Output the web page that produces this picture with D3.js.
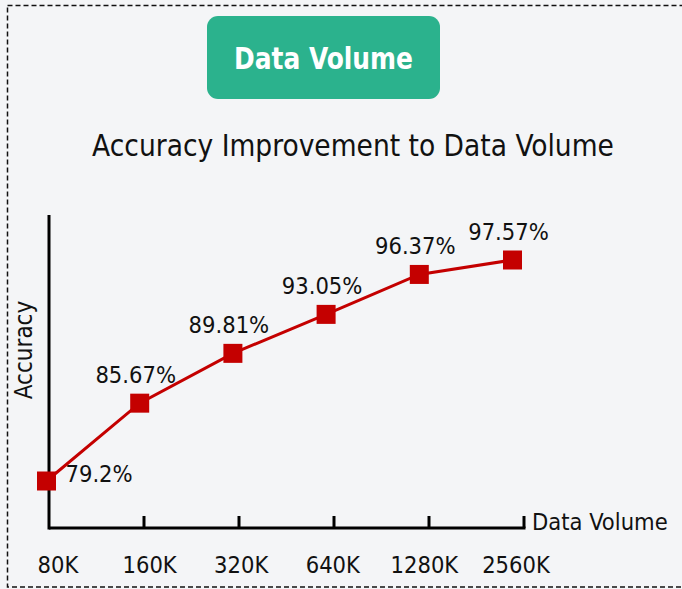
<!DOCTYPE html>
<html>
<head>
<meta charset="utf-8">
<script src="https://cdn.jsdelivr.net/npm/d3@7"></script>
<style>
  html, body { margin: 0; padding: 0; background: #f4f5f7; }
  svg { display: block; }
  svg text { font-stretch: condensed; }
</style>
</head>
<body>
<div id="chart"></div>
<script>
// --- data ---
const volumes = ["80K", "160K", "320K", "640K", "1280K", "2560K"];
const accuracy = [79.2, 85.67, 89.81, 93.05, 96.37, 97.57];
const accuracyLabels = ["79.2%", "85.67%", "89.81%", "93.05%", "96.37%", "97.57%"];

const width = 682;
const height = 589;
const font = "'DejaVu Sans Condensed', 'DejaVu Sans', sans-serif";
const red = "#c40000";

const svg = d3.select("#chart").append("svg")
  .attr("width", width)
  .attr("height", height);

// background + dashed frame
svg.append("rect").attr("width", width).attr("height", height).attr("fill", "#f4f5f7");
svg.append("rect")
  .attr("x", 7.5).attr("y", 5.5)
  .attr("width", width + 20).attr("height", 581.5)
  .attr("fill", "none")
  .attr("stroke", "#111")
  .attr("stroke-width", 1.5)
  .attr("stroke-dasharray", "5,3");

// green badge
svg.append("rect")
  .attr("x", 207).attr("y", 16)
  .attr("width", 233).attr("height", 83)
  .attr("rx", 11)
  .attr("fill", "#2bb28d");
svg.append("text")
  .attr("x", 323.5).attr("y", 69)
  .attr("text-anchor", "middle")
  .attr("font-family", font)
  .attr("font-weight", "bold")
  .attr("font-size", 31)
  .attr("textLength", 179)
  .attr("lengthAdjust", "spacingAndGlyphs")
  .attr("fill", "#fff")
  .text("Data Volume");

// subtitle
svg.append("text")
  .attr("x", 353).attr("y", 156)
  .attr("text-anchor", "middle")
  .attr("font-family", font)
  .attr("font-size", 29.5)
  .attr("fill", "#111")
  .text("Accuracy Improvement to Data Volume");

// --- scales ---
const idx = d3.range(volumes.length);
const xTick = d3.scalePoint().domain(idx).range([49, 524]);
const xPoint = d3.scalePoint().domain(idx).range([46.5, 512.5]);
const xLabel = d3.scalePoint().domain(idx).range([58, 516]);
const y = d3.scaleLinear().domain([79.2, 97.57]).range([481, 260]);

const axisY = 528;

// axes lines
svg.append("line")
  .attr("x1", 49).attr("x2", 49)
  .attr("y1", 215).attr("y2", axisY + 1.5)
  .attr("stroke", "#000").attr("stroke-width", 3);
svg.append("line")
  .attr("x1", 49).attr("x2", 525.5)
  .attr("y1", axisY).attr("y2", axisY)
  .attr("stroke", "#000").attr("stroke-width", 3);

// ticks pointing up (skip origin)
svg.selectAll(".tick")
  .data(idx.slice(1))
  .enter().append("line")
  .attr("class", "tick")
  .attr("x1", d => xTick(d)).attr("x2", d => xTick(d))
  .attr("y1", axisY - 12).attr("y2", axisY)
  .attr("stroke", "#000").attr("stroke-width", 3);

// tick labels
svg.selectAll(".tlabel")
  .data(idx)
  .enter().append("text")
  .attr("class", "tlabel")
  .attr("x", d => xLabel(d))
  .attr("y", 573)
  .attr("text-anchor", "middle")
  .attr("font-family", font)
  .attr("font-size", 23.5)
  .attr("fill", "#111")
  .text(d => volumes[d]);

// axis titles
svg.append("text")
  .attr("x", 532).attr("y", 530)
  .attr("font-family", font)
  .attr("font-size", 23.5)
  .attr("fill", "#111")
  .text("Data Volume");
svg.append("text")
  .attr("transform", "translate(32,350) rotate(-90)")
  .attr("text-anchor", "middle")
  .attr("font-family", font)
  .attr("font-size", 24)
  .attr("fill", "#111")
  .text("Accuracy");

// line
const line = d3.line()
  .x(d => xPoint(d))
  .y(d => y(accuracy[d]));
svg.append("path")
  .datum(idx)
  .attr("d", line)
  .attr("fill", "none")
  .attr("stroke", red)
  .attr("stroke-width", 3);

// square markers
const sq = 19;
svg.selectAll(".marker")
  .data(idx)
  .enter().append("rect")
  .attr("class", "marker")
  .attr("x", d => xPoint(d) - sq / 2)
  .attr("y", d => y(accuracy[d]) - sq / 2)
  .attr("width", sq).attr("height", sq)
  .attr("fill", red);

// value labels
svg.selectAll(".vlabel")
  .data(idx)
  .enter().append("text")
  .attr("class", "vlabel")
  .attr("x", d => d === 0 ? xPoint(d) + 19 : xPoint(d) - 4)
  .attr("y", d => d === 0 ? y(accuracy[d]) + 1 : y(accuracy[d]) - 20)
  .attr("text-anchor", d => d === 0 ? "start" : "middle")
  .attr("font-family", font)
  .attr("font-size", 23.5)
  .attr("fill", "#111")
  .text(d => accuracyLabels[d]);
</script>
</body>
</html>
